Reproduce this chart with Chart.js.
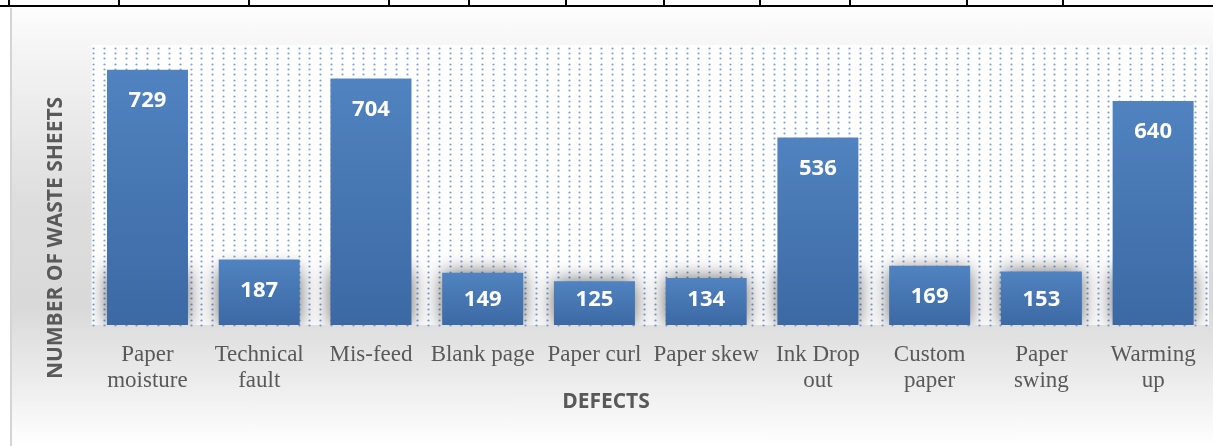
<!DOCTYPE html>
<html>
<head>
<meta charset="utf-8">
<script src="https://cdn.jsdelivr.net/npm/chart.js@4.4.1/dist/chart.umd.min.js"></script>
<style>
    body { margin: 0; background: #ffffff; width: 1213px; height: 446px; overflow: hidden; position: relative; }
    #tableLine { position: absolute; left: 0; top: 5px; width: 1213px; height: 2px; background: #000; }
    .cellLine { position: absolute; top: 0; width: 2px; height: 6px; background: #000; }
    #chartBox {
        position: absolute; left: 10px; top: 8px; width: 1203px; height: 438px;
        background: linear-gradient(to bottom, #fdfdfd 0%, #f3f3f3 12%, #dddddd 45%, #d9d9d9 68%, #ececec 85%, #ffffff 100%);
        border-left: 2px solid #d4d4d4;
        box-sizing: border-box;
    }
    #chartBox canvas { position: absolute; left: -2px; top: 0; }
</style>
</head>
<body>
<div id="tableLine"></div>
<div id="chartBox"><canvas id="defectsChart" width="1203" height="438"></canvas></div>
<script>
document.addEventListener("DOMContentLoaded", function () {
    // Data
    const defects = [
        ["Paper", "moisture"], ["Technical", "fault"], "Mis-feed", "Blank page", "Paper curl",
        "Paper skew", ["Ink Drop", "out"], ["Custom", "paper"], ["Paper", "swing"], ["Warming", "up"]
    ];
    const wasteSheets = [729, 187, 704, 149, 125, 134, 536, 169, 153, 640];
    const yTitle = "NUMBER OF WASTE SHEETS";
    const xTitle = "DEFECTS";
    const tableColumnLines = [9, 119, 249, 389, 469, 566, 664, 760, 850, 967, 1063];

    // table borders above the chart
    tableColumnLines.forEach(x => {
        const d = document.createElement("div");
        d.className = "cellLine";
        d.style.left = (x - 1) + "px";
        document.body.appendChild(d);
    });

    const ctx = document.getElementById("defectsChart").getContext("2d");

    // white plot area with the dotted pattern, plus soft bar shadows
    const plotBackground = {
        id: "plotBackground",
        beforeDatasetsDraw(chart) {
            const a = chart.chartArea;
            const c = chart.ctx;
            c.save();
            c.fillStyle = "#ffffff";
            c.fillRect(a.left, a.top, a.right - a.left, a.bottom - a.top);
            c.fillStyle = "rgba(80, 130, 200, 0.75)";
            for (let y = a.top + 2.7; y < a.bottom; y += 5.33) {
                for (let x = a.left + 1.7; x < a.right - 2; x += 10.8) {
                    c.beginPath();
                    c.arc(Math.round(x) + 0.5, Math.round(y) + 0.5, 1.1, 0, Math.PI * 2);
                    c.fill();
                }
            }
            // shadows near the base of every bar
            c.beginPath();
            c.rect(a.left, a.top, a.right - a.left, a.bottom - a.top);
            c.clip();
            const meta = chart.getDatasetMeta(0);
            c.shadowColor = "rgba(0, 0, 0, 0.6)";
            c.shadowBlur = 20;
            c.shadowOffsetX = 5000;
            c.fillStyle = "#000";
            meta.data.forEach(bar => {
                const top = Math.max(bar.y, bar.base - 55);
                c.fillRect(bar.x - bar.width / 2 - 5000, top, bar.width, bar.base - top);
            });
            c.restore();
        },
        afterDatasetsDraw(chart) {
            const c = chart.ctx;
            const meta = chart.getDatasetMeta(0);
            c.save();
            c.fillStyle = "#ffffff";
            c.font = "bold 22px 'Open Sans'";
            c.textAlign = "center";
            c.textBaseline = "middle";
            meta.data.forEach((bar, i) => {
                const y = Math.min(bar.y + 31, bar.base - 25);
                c.fillText(String(wasteSheets[i]), bar.x, y);
            });
            c.restore();
        },
        afterDraw(chart) {
            const c = chart.ctx;
            c.save();
            c.fillStyle = "#595959";
            c.font = "bold 21px 'Open Sans'";
            c.textAlign = "center";
            c.textBaseline = "middle";
            c.fillText(xTitle, 596, 394);
            c.translate(46, 230);
            c.rotate(-Math.PI / 2);
            c.fillText(yTitle, 0, 0);
            c.restore();
        }
    };

    function barGradient(context) {
        const chart = context.chart;
        const a = chart.chartArea;
        if (!a || !chart.scales.y) return "#4a7bb8";
        const top = chart.scales.y.getPixelForValue(wasteSheets[context.dataIndex]);
        const g = chart.ctx.createLinearGradient(0, top, 0, a.bottom);
        g.addColorStop(0, "#5083c0");
        g.addColorStop(1, "#3c69a4");
        return g;
    }

    new Chart(ctx, {
        type: "bar",
        data: {
            labels: defects,
            datasets: [{
                data: wasteSheets,
                backgroundColor: barGradient,
                borderWidth: 0,
                barPercentage: 1,
                categoryPercentage: 0.725
            }]
        },
        options: {
            responsive: false,
            devicePixelRatio: 1,
            animation: false,
            layout: { padding: { left: 81.6, right: 4, top: 37, bottom: 0 } },
            plugins: { legend: { display: false }, tooltip: { enabled: false } },
            scales: {
                x: {
                    grid: { display: false, drawTicks: false },
                    border: { display: false },
                    ticks: {
                        color: "#595959",
                        font: { family: "'Liberation Serif'", size: 23, lineHeight: 1.17 },
                        padding: 16,
                        maxRotation: 0,
                        minRotation: 0,
                        autoSkip: false
                    },
                    afterFit(scale) { scale.height = 121; }
                },
                y: {
                    display: false,
                    min: 0,
                    max: 800
                }
            }
        },
        plugins: [plotBackground]
    });
});
</script>
</body>
</html>
